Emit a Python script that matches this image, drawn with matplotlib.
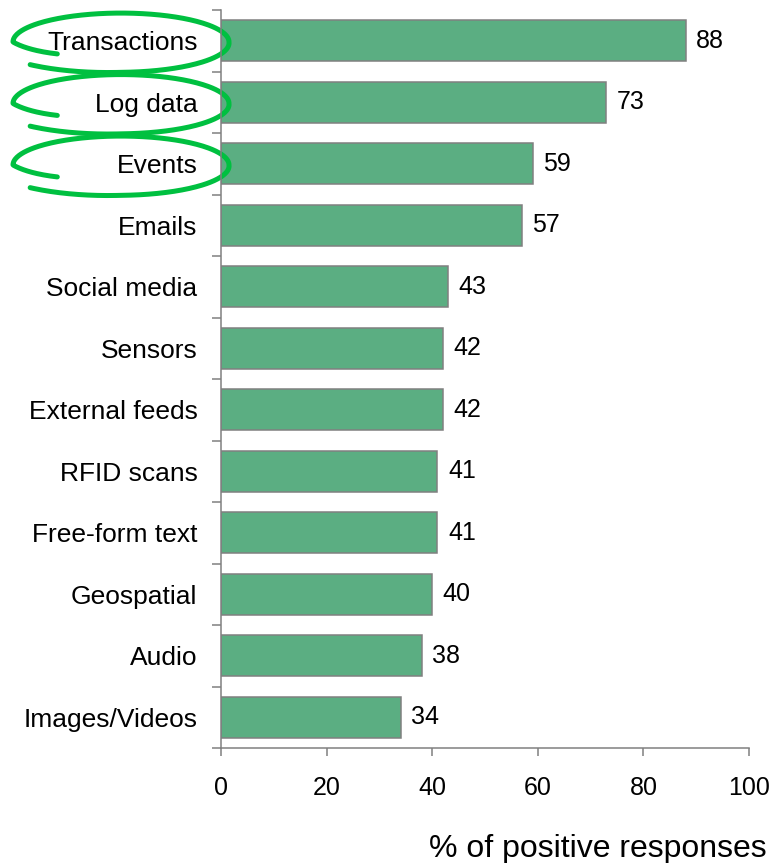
import matplotlib
matplotlib.use("Agg")
import matplotlib.pyplot as plt
import matplotlib.transforms as mtransforms
import numpy as np

plt.rcParams['font.family'] = ['Liberation Sans', 'DejaVu Sans']

# data (top to bottom)
categories = ["Transactions", "Log data", "Events", "Emails", "Social media",
              "Sensors", "External feeds", "RFID scans", "Free-form text",
              "Geospatial", "Audio", "Images/Videos"]
values = [88, 73, 59, 57, 43, 42, 42, 41, 41, 40, 38, 34]
circled = ["Transactions", "Log data", "Events"]
xticks = [0, 20, 40, 60, 80, 100]

W, H = 773, 863
fig = plt.figure(figsize=(W / 100, H / 100), dpi=100)
ax = fig.add_axes([221 / W, 1 - 748 / H, (749 - 221) / W, (748 - 10) / H])

n = len(categories)
y = np.arange(n)
ax.barh(y, values, height=0.67, color="#5bae82", edgecolor="#808080", linewidth=1.1)

for yi, v in zip(y, values):
    ax.text(v + 2, yi, str(v), va="center", ha="left", fontsize=18)

ax.set_xlim(0, 100)
ax.set_ylim(n - 0.5, -0.5)
ax.set_xticks(xticks)
ax.set_yticks(y)
ax.set_yticklabels(categories)
ax.set_yticks(np.arange(n + 1) - 0.5, minor=True)

ax.tick_params(axis="y", which="major", length=0, pad=17, labelsize=19)
ax.tick_params(axis="y", which="minor", length=6.5, width=1.1, color="#808080")
ax.tick_params(axis="x", length=6, width=1.1, color="#808080", pad=14, labelsize=18)

for s in ["top", "right"]:
    ax.spines[s].set_visible(False)
for s in ["left", "bottom"]:
    ax.spines[s].set_color("#808080")
    ax.spines[s].set_linewidth(1.1)

fig.text(767 / W, 1 - 857 / H, "% of positive responses", ha="right", va="baseline", fontsize=23)

# hand-drawn highlight loops around the first labels
trans = mtransforms.blended_transform_factory(fig.transFigure, ax.transData)
t = np.linspace(np.radians(215), np.radians(-137), 300)
scale = np.interp(np.degrees(t)[::-1], [-137, -90, 0, 90, 180, 215],
                  [1.15, 1.05, 1.0, 1.0, 1.0, 0.72])[::-1]
cx, a, b = 121 / W, 108 / W, 0.47
for name in circled:
    cy = categories.index(name) + 0.02
    xs = cx + a * scale * np.cos(t)
    ys = cy - b * scale * np.sin(t)
    ax.plot(xs, ys, transform=trans, color="#00c040", lw=3.6,
            solid_capstyle="round", clip_on=False)

fig.savefig("out.png", dpi=100)
